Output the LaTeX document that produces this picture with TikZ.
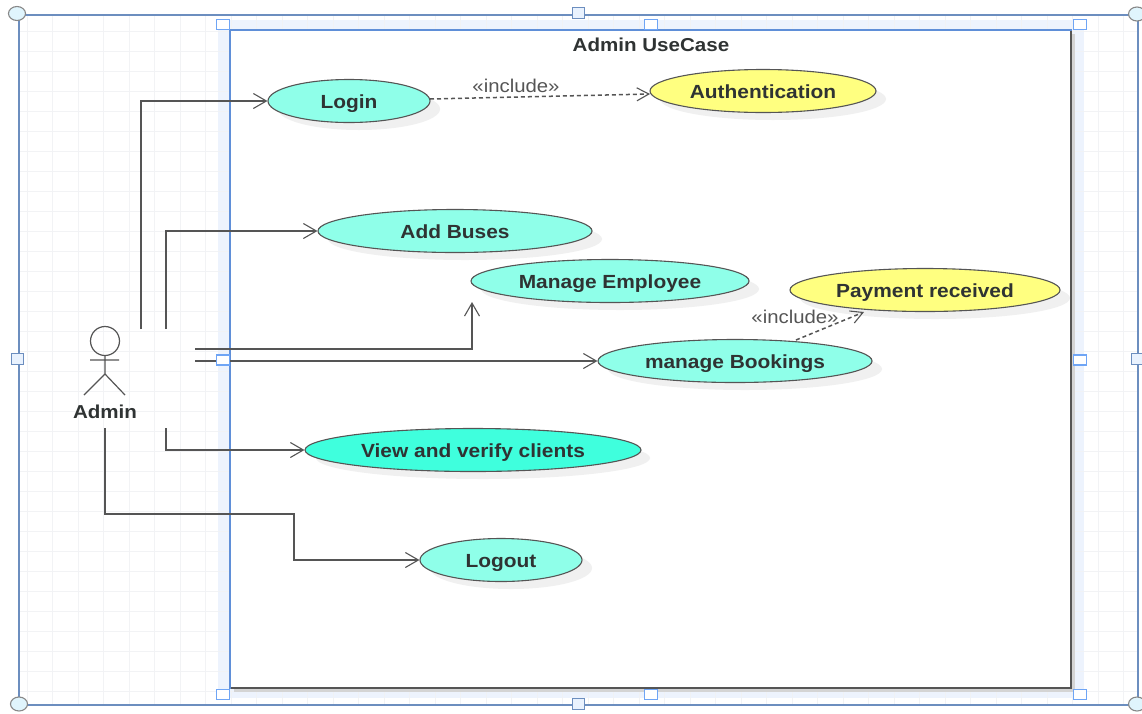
\documentclass[tikz,border=0pt]{standalone}
\usepackage{fontspec}
\setmainfont[FakeStretch=1.1]{Liberation Sans}
\usetikzlibrary{shapes.geometric,arrows.meta}
\definecolor{ucaqua}{HTML}{8FFFE9}
\definecolor{ucdeep}{HTML}{3FFFDD}
\definecolor{ucyellow}{HTML}{FFFF80}
\definecolor{linegray}{HTML}{555555}
\definecolor{txt}{HTML}{2F3333}
\definecolor{selblue}{HTML}{6FA5F5}
\definecolor{boundblue}{HTML}{5F8FD8}
\definecolor{frameblue}{HTML}{6C8EBF}
\definecolor{bandblue}{HTML}{EDF3FD}
\definecolor{gridc}{HTML}{F1F2F5}
\tikzset{
  x=1pt,y=-1pt,
  usecase/.style={ellipse,draw=linegray,line width=1.1pt,inner sep=0pt,minimum height=43pt,
    text height=17pt,text depth=3pt,
    font=\fontsize{19}{22}\selectfont\bfseries,text=txt,fill=ucaqua},
  sq/.style={draw=selblue,line width=1.3pt,fill=white,minimum width=13pt,minimum height=10pt,inner sep=0pt},
  fsq/.style={draw=frameblue,line width=1pt,fill=white!85!selblue,minimum width=12pt,minimum height=11pt,inner sep=0pt},
  round handle/.style={ellipse,draw=linegray!70,line width=1.1pt,fill=cyan!12,minimum width=17pt,minimum height=14pt,inner sep=0pt},
  conn/.style={draw=linegray,line width=1.3pt,-{Straight Barb[length=13pt,width=15pt,line width=1.1pt]}},
  incl/.style={draw=linegray,line width=1.5pt,dash pattern=on 4pt off 3pt,-{Straight Barb[length=12pt,width=13pt,line width=1.1pt,line cap=butt]}},
  stereo/.style={font=\fontsize{18.5}{20}\selectfont,text=linegray,inner sep=0pt},
  bold label/.style={font=\fontsize{18.7}{20}\selectfont\bfseries,text=txt,inner sep=0pt},
  limb/.style={draw=linegray,line width=1.2pt}
}
\begin{document}
\begin{tikzpicture}
\useasboundingbox (0,0) rectangle (1142,713);
\fill[white] (0,0) rectangle (1142,713);
% selection band
\fill[bandblue] (218,20) rectangle (1084,698);
% grid
\foreach \gx in {27,52.5,...,1140}{\draw[gridc,line width=1pt,opacity=.9] (\gx,16) -- (\gx,704);}
\foreach \gy in {31,51,...,704}{\draw[gridc,line width=1pt,opacity=.9] (20,\gy) -- (1137,\gy);}
% outer frame
\draw[frameblue,line width=1.2pt] (19,15) rectangle (1138,705);
% boundary
\fill[linegray!25] (234,34) rectangle (1075,692);
\node[draw=boundblue,line width=2.6pt,fill=white,minimum width=841pt,minimum height=658pt,inner sep=0pt] (boundary) at (650.5,359) {};
\draw[linegray,line width=2pt] (1071,31) -- (1071,688) -- (231,688);
\node[bold label] (title) at (651,45) {Admin UseCase};
% shadows
\foreach \sx/\sy/\srx in {349/101/81,763/91/113,455/231/137,610/281/139,925/290/135,735/361/137,473/450/167,501/560/81}{
  \fill[black!6] (\sx+10,\sy+8) ellipse [x radius=\srx,y radius=21];}
% use cases
\node[usecase,minimum width=162pt] (login) at (349,101) {Login};
\node[usecase,minimum width=226pt,fill=ucyellow] (auth) at (763,91) {Authentication};
\node[usecase,minimum width=274pt] (buses) at (455,231) {Add Buses};
\node[usecase,minimum width=278pt] (emp) at (610,281) {Manage Employee};
\node[usecase,minimum width=270pt,fill=ucyellow] (pay) at (925,290) {Payment received};
\node[usecase,minimum width=274pt] (book) at (735,361) {manage Bookings};
\node[usecase,minimum width=336pt,fill=ucdeep] (view) at (473,450) {View and verify clients};
\node[usecase,minimum width=162pt] (logout) at (501,560) {Logout};
% actor
\node[circle,draw=linegray,line width=1.2pt,minimum size=29pt,inner sep=0pt] (head) at (105,341) {};
\node[bold label] (admin) at (105,412) {Admin};
\coordinate (hip) at (105,374);
\coordinate (armL) at (90,360);
\coordinate (armR) at (119,360);
\coordinate (legL) at (84,395);
\coordinate (legR) at (125,395);
\draw[limb] (head.south) -- (hip) (armL) -- (armR) (legL) -- (hip) -- (legR);
% connector free ends
\coordinate (a1) at (141,329);
\coordinate (a2) at (166,329);
\coordinate (a3) at (195,349);
\coordinate (a4) at (195,361);
\coordinate (a5) at (166,428);
\coordinate (a6) at (105,428);
\coordinate (a7) at (294,514);
\coordinate (e3) at (472,302);
\coordinate (e1s) at (430,99);
\coordinate (e1e) at (650,94);
\coordinate (e2s) at (796,340);
\coordinate (e2e) at (864,312);
\draw[conn] (a1) |- (login.west);
\draw[conn] (a2) |- (buses.west);
\draw[conn] (a3) -| (e3);
\draw[conn] (a4) -- (book.west);
\draw[conn] (a5) |- (view.west);
\draw[conn] (a6) |- (a7) |- (logout.west);
\draw[incl] (e1s) -- (e1e);
\draw[incl] (e2s) -- (e2e);
\node[stereo] (inc1) at (516,86) {«include»};
\node[stereo] (inc2) at (795,317) {«include»};
% handles
\foreach \nm/\hx/\hy in {s1/223/24.5,s2/651/24.5,s3/1080/24.5,s4/223/360,s5/1080/360,s6/223/694.5,s7/651/694.5,s8/1080/694.5}{
  \node[sq] (\nm) at (\hx,\hy) {};}
\foreach \nm/\hx/\hy in {f1/578/13,f2/17/359,f3/1137/359,f4/578/704}{
  \node[fsq] (\nm) at (\hx,\hy) {};}
\foreach \nm/\hx/\hy in {r1/17/13.5,r2/1137/14,r3/19/704,r4/1137/704}{
  \node[round handle] (\nm) at (\hx,\hy) {};}
\end{tikzpicture}
\end{document}
